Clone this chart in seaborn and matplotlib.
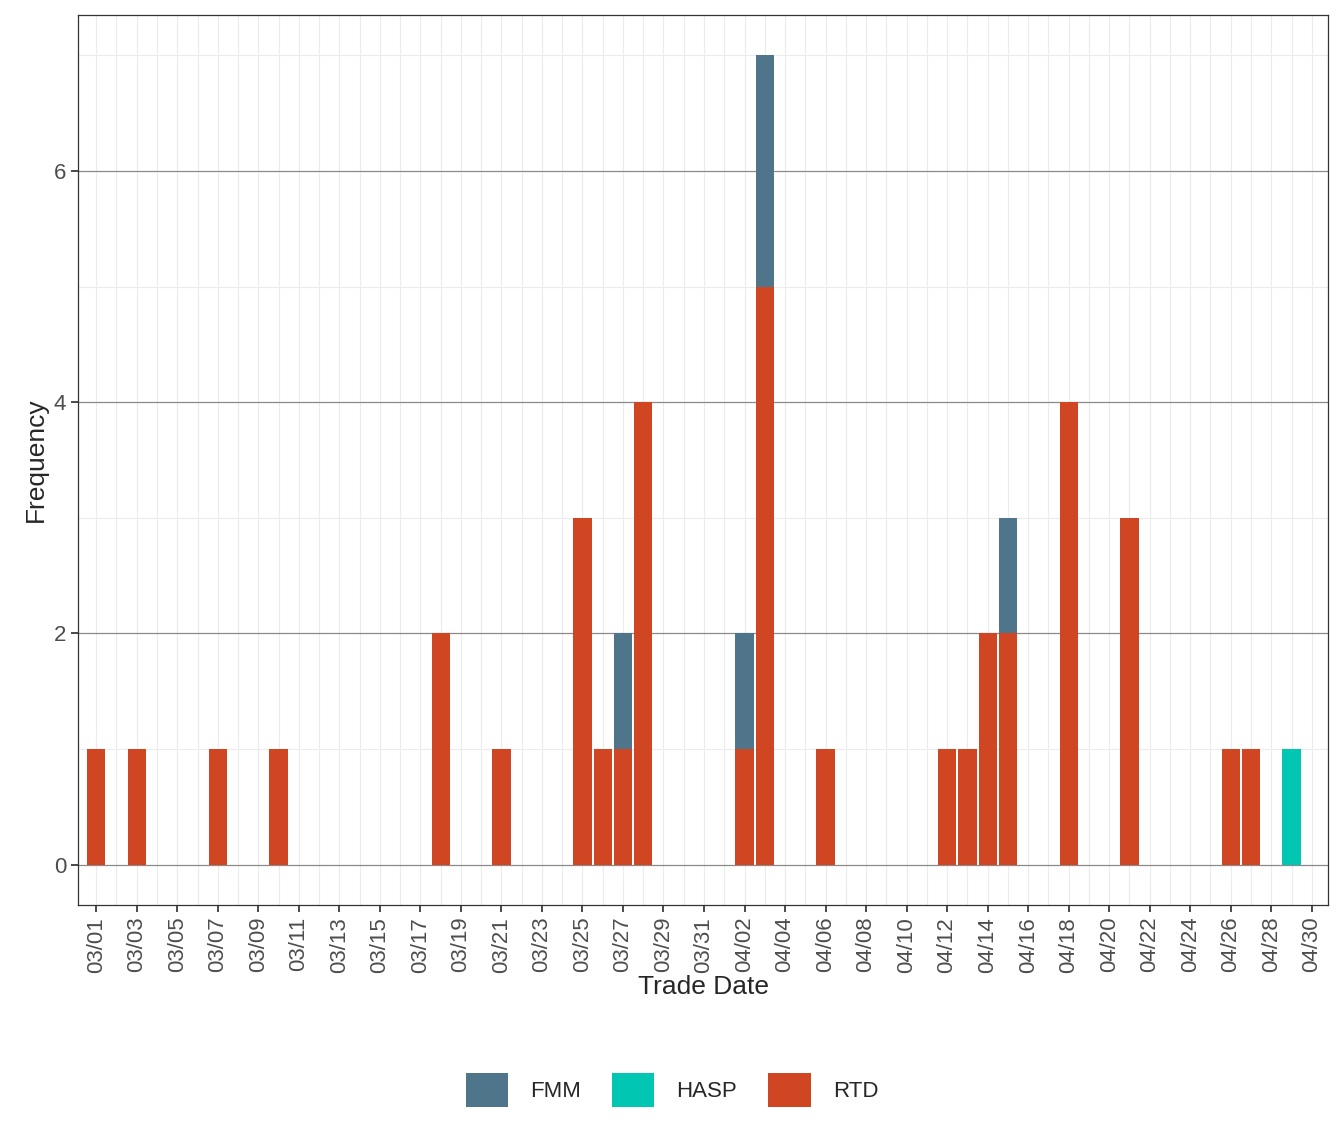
import pandas as pd
import seaborn as sns
import matplotlib.pyplot as plt
import numpy as np

# Data: day offset from 03/01, market, count
rtd_days = [0, 2, 6, 9, 17, 20, 24, 25, 26, 27, 32, 33, 36, 42, 43, 44, 45, 48, 51, 56, 57]
rtd_vals = [1, 1, 1, 1, 2, 1, 3, 1, 1, 4, 1, 5, 1, 1, 1, 2, 2, 4, 3, 1, 1]
fmm_days = [26, 32, 33, 45]
fmm_vals = [1, 1, 2, 1]
hasp_days = [59]
hasp_vals = [1]

dates = pd.date_range("2024-03-01", "2024-04-30")
tick_pos = list(range(0, 61, 2))
tick_labels = [dates[i].strftime("%m/%d") for i in tick_pos]

colors = {"FMM": "#4E7589", "HASP": "#00C6B2", "RTD": "#D04522"}

sns.set_theme(style="white", font="Liberation Sans")
fig = plt.figure(figsize=(13.44, 11.42), dpi=100)
ax = fig.add_axes([78 / 1344, 1 - 905 / 1142, 1250 / 1344, 890 / 1142])

rtd = pd.Series(rtd_vals, index=rtd_days)
ax.bar(rtd_days, rtd_vals, width=0.9, color=colors["RTD"], linewidth=0, zorder=3)
ax.bar(fmm_days, fmm_vals, width=0.9, bottom=rtd.reindex(fmm_days, fill_value=0).values,
       color=colors["FMM"], linewidth=0, zorder=3)
ax.bar(hasp_days, hasp_vals, width=0.9, color=colors["HASP"], linewidth=0, zorder=3)

ax.set_xlim(-0.9, 60.8)
ax.set_ylim(-0.35, 7.35)
ax.set_xticks(tick_pos)
ax.set_xticklabels(tick_labels, rotation=90, fontsize=16, color="#4d4d4d")
ax.set_yticks([0, 2, 4, 6])
ax.set_yticklabels(["0", "2", "4", "6"], fontsize=16, color="#4d4d4d")
ax.set_yticks([1, 3, 5, 7], minor=True)
ax.set_xticks(range(1, 61, 2), minor=True)
ax.grid(which="major", axis="y", color="#8a8a8a", linewidth=0.9, zorder=0)
ax.grid(which="minor", axis="y", color="#ececec", linewidth=0.8, zorder=0)
ax.grid(which="both", axis="x", color="#ececec", linewidth=0.8, zorder=0)
ax.tick_params(axis="x", which="major", length=5, color="#333333", bottom=True)
ax.tick_params(axis="y", which="major", length=5, color="#333333", left=True)
ax.tick_params(which="minor", length=0)
for s in ax.spines.values():
    s.set_color("#333333")
    s.set_linewidth(0.9)

ax.set_xlabel("Trade Date", fontsize=19, labelpad=2)
ax.set_ylabel("Frequency", fontsize=19)

handles = [plt.Rectangle((0, 0), 1, 1, color=colors[k], linewidth=0) for k in ["FMM", "HASP", "RTD"]]
fig.legend(handles, ["FMM", "HASP", "RTD"], loc="center", bbox_to_anchor=(0.5, 1 - 1090 / 1142),
           ncol=3, frameon=False, fontsize=16, handlelength=1.9, handleheight=2.0,
           columnspacing=1.4, handletextpad=1.0)

fig.savefig("out.png", dpi=100)
